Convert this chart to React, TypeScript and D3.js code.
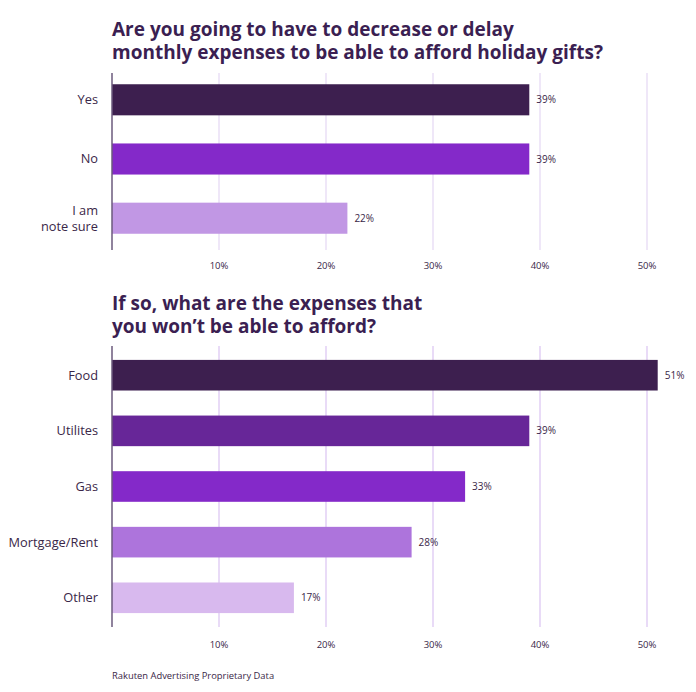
import * as d3 from 'd3';

// --- DATA ---
const topCategories = ['Yes', 'No', 'I am\nnote sure'];
const topValues = [39, 39, 22];
const topColors = ['#3d1f4f', '#8429c9', '#c197e4'];

const bottomCategories = ['Food', 'Utilites', 'Gas', 'Mortgage/Rent', 'Other'];
const bottomValues = [51, 39, 33, 28, 17];
const bottomColors = ['#3d1f4f', '#672698', '#8429c9', '#ad74dc', '#d8b9ee'];

const tickValues = [10, 20, 30, 40, 50];

const topTitle = ['Are you going to have to decrease or delay', 'monthly expenses to be able to afford holiday gifts?'];
const bottomTitle = ['If so, what are the expenses that', 'you won\u2019t be able to afford?'];
const footer = 'Rakuten Advertising Proprietary Data';

const W = 696;
const H = 692;
const FONT = '"Open Sans", "Noto Sans", sans-serif';
const TEXT = '#3a2748';

// shared x scale
const x = d3.scaleLinear().domain([0, 50]).range([112, 647]);

interface PanelProps {
  categories: string[];
  values: number[];
  colors: string[];
  y0: number;
  y1: number;
  bandEnd: number;
  padInner: number;
  padOuter: number;
  tickY: number;
  gridColor: string;
}

function Panel({ categories, values, colors, y0, y1, bandEnd, padInner, padOuter, tickY, gridColor }: PanelProps) {
  const y = d3.scaleBand<string>()
    .domain(categories)
    .range([y0, bandEnd])
    .paddingInner(padInner)
    .paddingOuter(padOuter);
  const bw = y.bandwidth();

  return (
    <g>
      {/* grid */}
      {tickValues.map(t => (
        <line key={t} x1={x(t)} x2={x(t)} y1={y0} y2={y1} stroke={gridColor} strokeWidth={1.5} />
      ))}
      {/* bars */}
      {categories.map((c, i) => {
        const by = y(c) as number;
        const lines = c.split('\n');
        const cy = by + bw / 2;
        return (
          <g key={c}>
            <rect x={x(0)} y={by} width={x(values[i]) - x(0)} height={bw} fill={colors[i]} />
            <text x={x(values[i]) + 7} y={cy} dy="0.35em" fontSize={10} fill={TEXT}>
              {values[i]}%
            </text>
            <text x={98} y={cy - (lines.length - 1) * 8} textAnchor="end" fontSize={12.8} fill={TEXT}>
              {lines.map((l, k) => (
                <tspan key={k} x={98} dy={k === 0 ? '0.35em' : 16}>{l}</tspan>
              ))}
            </text>
          </g>
        );
      })}
      {/* axis line */}
      <line x1={x(0)} x2={x(0)} y1={y0} y2={y1} stroke="#6b5a7c" strokeWidth={1.5} />
      {/* ticks */}
      {tickValues.map(t => (
        <text key={t} x={x(t)} y={tickY} textAnchor="middle" fontSize={9.5} fill={TEXT}>
          {t}%
        </text>
      ))}
    </g>
  );
}

export default function App() {
  return (
    <svg width={W} height={H} viewBox={`0 0 ${W} ${H}`}
      style={{ position: 'absolute', left: 0, top: 0, background: '#fff' }}
      fontFamily={FONT}>
      <rect width={W} height={H} fill="#fff" />
      <text x={112} y={36} fontSize={19} fontWeight={700} fill="#3b1f52">
        {topTitle.map((t, i) => (
          <tspan key={t} x={112} dy={i === 0 ? 0 : 23}>{t}</tspan>
        ))}
      </text>
      <Panel categories={topCategories} values={topValues} colors={topColors}
        y0={73} y1={250} bandEnd={245} padInner={0.475} padOuter={0.19} tickY={269} gridColor="#eadff6" />

      <text x={112} y={310} fontSize={19} fontWeight={700} fill="#3b1f52">
        {bottomTitle.map((t, i) => (
          <tspan key={t} x={112} dy={i === 0 ? 0 : 23}>{t}</tspan>
        ))}
      </text>
      <Panel categories={bottomCategories} values={bottomValues} colors={bottomColors}
        y0={346} y1={627} bandEnd={627} padInner={0.45} padOuter={0.25} tickY={648} gridColor="#e2cff4" />

      <text x={112} y={679} fontSize={9.4} fill={TEXT}>{footer}</text>
    </svg>
  );
}
